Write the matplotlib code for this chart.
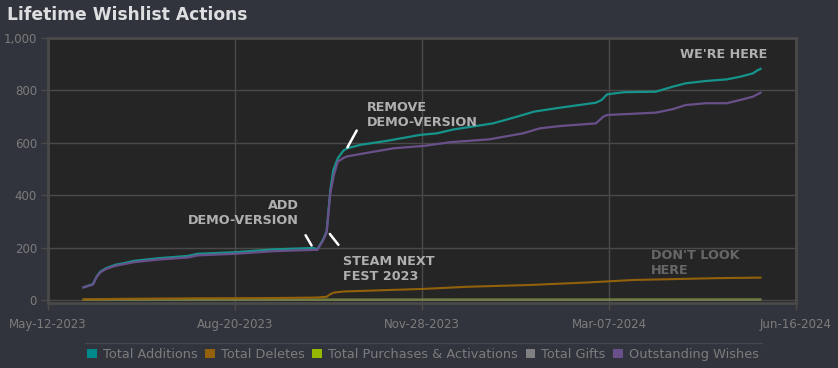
import matplotlib
matplotlib.use("Agg")
import matplotlib.pyplot as plt
from matplotlib.patches import Patch
from matplotlib.lines import Line2D

# ---- data (x = days since May-12-2023) ----
tick_days = [0, 100, 200, 300, 400]
tick_labels = ["May-12-2023", "Aug-20-2023", "Nov-28-2023", "Mar-07-2024", "Jun-16-2024"]
y_ticks = [0, 200, 400, 600, 800, 1000]

add_days = [19, 24, 26, 28, 31, 36, 41, 46, 59, 75, 80, 100, 121, 142, 144, 147, 149, 151, 152.6,
            155, 158, 160, 167, 181, 199, 208, 217, 238, 251, 260, 274, 293, 296, 299, 308, 325,
            334, 341, 352, 363, 370, 377, 379, 381]
add_vals = [48, 60, 89, 108, 121, 134, 141, 149, 159, 168, 176, 182, 193, 198, 193, 229, 261, 420, 496,
            541, 570, 579, 592, 607, 630, 636, 651, 674, 700, 719, 734, 753, 763, 785, 793, 795,
            814, 827, 836, 842, 852, 865, 875, 882]

out_days = [19, 24, 26, 28, 31, 36, 41, 46, 59, 75, 80, 100, 121, 142, 144, 147, 149, 151, 153, 155,
            158, 160, 167, 185, 201, 215, 236, 254, 263, 274, 293, 297, 299, 325, 334, 341, 352, 363,
            370, 377, 381]
out_vals = [48, 58, 87, 105, 118, 130, 137, 144, 154, 162, 170, 176, 186, 191, 191, 225, 258, 410, 480, 528,
            542, 548, 557, 579, 588, 602, 613, 636, 655, 664, 674, 700, 706, 715, 728, 744, 751, 751,
            763, 776, 791]

del_days = [19, 40, 80, 120, 144, 149, 151, 153, 158, 201, 224, 258, 290, 313, 358, 381]
del_vals = [2, 4, 6, 7, 9, 12, 22, 28, 32, 42, 50, 57, 67, 76, 83, 85]

pur_days = [19, 381]
pur_vals = [1, 2]

gift_days = [19, 381]
gift_vals = [0, 0]

series_names = ["Total Additions", "Total Deletes", "Total Purchases & Activations",
                "Total Gifts", "Outstanding Wishes"]
legend_colors = ["#00898a", "#93600c", "#95b800", "#808080", "#6a508a"]

# ---- figure ----
fig_bg = "#31343c"
ax_bg = "#252525"
grid_c = "#4a4a4a"
text_c = "#7c7c7c"

fig = plt.figure(figsize=(8.38, 3.68), dpi=100, facecolor=fig_bg)
ax = fig.add_axes([48 / 838, 1 - 302.5 / 368, 748 / 838, (302.5 - 38) / 368], facecolor=ax_bg)

ax.plot(gift_days, gift_vals, color="#7a7a7a", lw=1.2, zorder=3)
ax.plot(pur_days, pur_vals, color="#6f7d40", lw=1.6, zorder=3)
ax.plot(del_days, del_vals, color="#93600c", lw=1.5, zorder=3)
ax.plot(out_days, out_vals, color="#6a508a", lw=1.6, zorder=4)
ax.plot(add_days, add_vals, color="#16948c", lw=1.6, zorder=3)

ax.set_xlim(0, 400)
ax.set_ylim(-10, 1000)
ax.set_xticks(tick_days)
ax.set_xticklabels(tick_labels)
ax.set_yticks(y_ticks)
ax.set_yticklabels([f"{v:,}" for v in y_ticks])
ax.grid(True, color=grid_c, lw=1)
ax.set_axisbelow(True)
ax.tick_params(colors=grid_c, labelcolor=text_c, labelsize=8.5, length=5, width=1)
ax.tick_params(axis="x", pad=6)
ax.tick_params(axis="y", pad=3)
for s in ax.spines.values():
    s.set_color("#4a4a4a")
    s.set_linewidth(2)

# annotations
ann = dict(color="#b0b0b0", fontsize=9.2, fontweight="heavy", family="DejaVu Sans", linespacing=1.2)
ax.text(134, 384, "ADD\nDEMO-VERSION", ha="right", va="top", multialignment="right", **ann)
ax.text(158, 172, "STEAM NEXT\nFEST 2023", ha="left", va="top", **ann)
ax.text(170.5, 758, "REMOVE\nDEMO-VERSION", ha="left", va="top", **ann)
ax.text(338, 960, "WE'RE HERE", ha="left", va="top", **ann)
ann2 = dict(ann)
ann2["color"] = "#676767"
ax.text(322.5, 194, "DON'T LOOK\nHERE", ha="left", va="top", **ann2)

for (x0, y0, x1, y1) in [(137, 256, 141.7, 198.5), (149.8, 260, 156.2, 202), (165.8, 656, 159.4, 573)]:
    ax.annotate("", xy=(x1, y1), xytext=(x0, y0),
                arrowprops=dict(arrowstyle="-", color="white", lw=1.8), zorder=6)

# title
fig.text(7 / 838, 1 - 15 / 368, "Lifetime Wishlist Actions", color="#dcdedf", fontsize=12.3,
         fontweight="bold", ha="left", va="center")

# legend separator line
fig.add_artist(Line2D([85 / 838, 762 / 838], [1 - 343 / 368] * 2, color="#44474e", lw=1))

handles = [Patch(facecolor=c, edgecolor="none") for c in legend_colors]
leg = fig.legend(handles, series_names, loc="center", bbox_to_anchor=(423 / 838, 1 - 354.5 / 368),
                 ncol=5, frameon=False, fontsize=9.3, handlelength=0.75, handleheight=0.75,
                 handletextpad=0.45, columnspacing=0.6, labelcolor=text_c)

fig.savefig("out.png", dpi=100, facecolor=fig_bg)
